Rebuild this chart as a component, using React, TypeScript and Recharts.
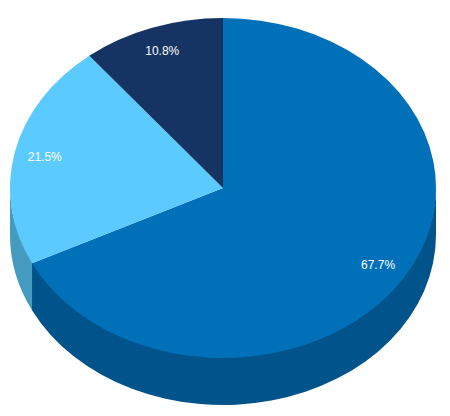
import { PieChart, Pie, Cell } from "recharts";

const names = ["A", "B", "C"];
const shares = [67.7, 21.5, 10.8];
const topColors = ["#0070b9", "#5bcbff", "#153463"];
const wallColors = ["#00548b", "#449abf", "#0f274a"];

const data = names.map((name, i) => ({ name, value: shares[i] }));

const RX = 213;
const RY = 170;
const DEPTH = 47;
const rad = Math.PI / 180;
const squash = RY / RX;

const px = (cx: number, a: number) => cx + RX * Math.cos(a * rad);
const py = (cy: number, a: number) => cy - RY * Math.sin(a * rad);

// top face, an ellipse wedge instead of a circular one
function TopSlice({ cx, cy, startAngle, endAngle, index }: any) {
  const large = Math.abs(startAngle - endAngle) > 180 ? 1 : 0;
  const d = `M${cx},${cy} L${px(cx, startAngle)},${py(cy, startAngle)} A${RX},${RY} 0 ${large} 1 ${px(cx, endAngle)},${py(cy, endAngle)} Z`;
  return <path d={d} fill={topColors[index]} />;
}

// side wall, only the front half of the rim shows
// the top edge sits 2px up, under the face, so no white seam shows on the rim
function WallSlice({ cx, cy, startAngle, endAngle, index }: any) {
  const hi = Math.min(startAngle, 0);
  const lo = Math.max(endAngle, -180);
  if (lo >= hi) return null;
  const x1 = px(cx, hi);
  const y1 = py(cy, hi);
  const x2 = px(cx, lo);
  const y2 = py(cy, lo);
  const d = `M${x1},${y1 - 2} A${RX},${RY} 0 0 1 ${x2},${y2 - 2} L${x2},${y2 + DEPTH} A${RX},${RY} 0 0 0 ${x1},${y1 + DEPTH} Z`;
  return <path d={d} fill={wallColors[index]} />;
}

function SliceLabel({ cx, cy, midAngle, value }: any) {
  const r = RX * 0.857;
  const x = cx + r * Math.cos(midAngle * rad);
  const y = cy - r * squash * Math.sin(midAngle * rad);
  return (
    <text x={x} y={y} fill="#fff" fontSize={12} fontFamily="Liberation Sans, Arial, sans-serif" textAnchor="middle" dominantBaseline="central">
      {value.toFixed(1)}%
    </text>
  );
}

export default function App() {
  return (
    <div style={{ position: "absolute", left: 0, top: 0, width: 450, height: 416 }}>
      <PieChart width={450} height={416} margin={{ top: 0, right: 0, bottom: 0, left: 0 }}>
        <Pie data={data} dataKey="value" cx={223} cy={188} outerRadius={RX} startAngle={90} endAngle={-270} stroke="none" shape={WallSlice} isAnimationActive={false}>
          {data.map((d, i) => <Cell key={d.name} fill={wallColors[i]} />)}
        </Pie>
        <Pie data={data} dataKey="value" cx={223} cy={188} outerRadius={RX} startAngle={90} endAngle={-270} stroke="none" shape={TopSlice} label={SliceLabel} labelLine={false} isAnimationActive={false}>
          {data.map((d, i) => <Cell key={d.name} fill={topColors[i]} />)}
        </Pie>
      </PieChart>
    </div>
  );
}
